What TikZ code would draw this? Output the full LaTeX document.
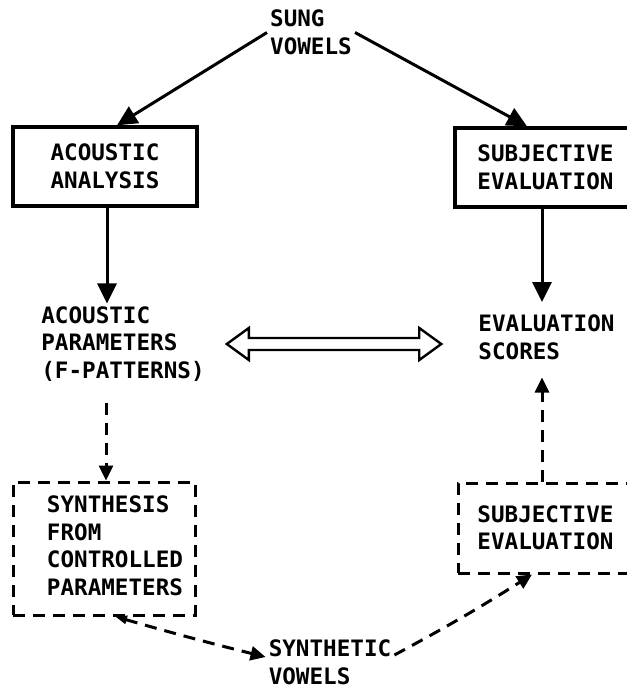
\documentclass[tikz,border=0pt]{standalone}
\usepackage{fontspec}
\setmainfont{DejaVu Sans Mono}
\usetikzlibrary{arrows.meta,calc}

\begin{document}
\begin{tikzpicture}[x=1pt,y=-1pt,>={Triangle[length=20pt,width=19pt]},every node/.style={font=\bfseries\fontsize{22.6}{27.5}\selectfont},box/.style={draw,line width=3.4pt,align=center,inner sep=0pt},dbox/.style={box,line width=3pt,dash pattern=on 12pt off 8pt},lbl/.style={align=left,inner sep=3pt},arr/.style={->,line width=3pt},darr/.style={-{Triangle[length=15pt,width=14pt]},line width=3pt,dash pattern=on 12pt off 8pt}]
\useasboundingbox (0,0) rectangle (627,689);
\clip (0,0) rectangle (627,689);
\node[lbl] (sung) at (311,32.5) {SUNG\\VOWELS};
\node[box,minimum width=184pt,minimum height=79pt] (acan) at (105,166.5) {ACOUSTIC\\ANALYSIS};
\node[box,minimum width=181pt,minimum height=79pt] (subj) at (545.5,167.5) {SUBJECTIVE\\EVALUATION};
\node[lbl] (acpar) at (123,344) {ACOUSTIC\\PARAMETERS\\(F-PATTERNS)};
\node[lbl] (evsc) at (546.5,337.5) {EVALUATION\\SCORES};
\node[dbox,minimum width=182pt,minimum height=133pt] (synth) at (104,548.5) {\hspace*{22pt}\begin{tabular}{@{}l@{}}SYNTHESIS\\FROM\\CONTROLLED\\PARAMETERS\end{tabular}};
\node[dbox,minimum width=175pt,minimum height=90pt] (subjb) at (545.5,528) {SUBJECTIVE\\EVALUATION};
\node[lbl] (synv) at (330,662.5) {SYNTHETIC\\VOWELS};
% ends of the hollow double arrow
\coordinate (dl) at ([xshift=19pt]acpar.east);
\coordinate (dr) at ($(evsc.west |- dl)+(-34,0)$);
\draw[arr](sung.west)--([xshift=12pt]acan.north);\draw[arr](sung.east)--([xshift=-18.5pt]subj.north);
\draw[arr]([xshift=2pt]acan.south)--([xshift=2pt]acan.south |- acpar.north);\draw[arr,shorten >=10pt]([xshift=-3.5pt]subj.south)--([xshift=-3.5pt]subj.south |- evsc.north);
\draw[darr,shorten <=18pt]([xshift=2pt]synth.north |- acpar.south)--([xshift=2pt]synth.north);\draw[darr,shorten >=14.5pt]([xshift=-3.5pt]subjb.north)--([xshift=-3.5pt]subjb.north |- evsc.south);
\draw[darr,{Triangle[length=12pt,width=8pt]}-{Triangle[length=15pt,width=14pt]}]([xshift=11pt]synth.south) to[bend right=1] ([yshift=5.5pt]synv.west);
\draw[darr]([yshift=7.5pt]synv.east) to[bend right=2] ([xshift=-13.5pt]subjb.south);
\draw[line width=2.4pt,line join=miter](dl)--++(22,-16)--++(0,10)--($(dr)+(-22,-6)$)--++(0,-10)--(dr)--++(-22,16)--++(0,-10)--($(dl)+(22,6)$)--++(0,10)--cycle;
\end{tikzpicture}
\end{document}
